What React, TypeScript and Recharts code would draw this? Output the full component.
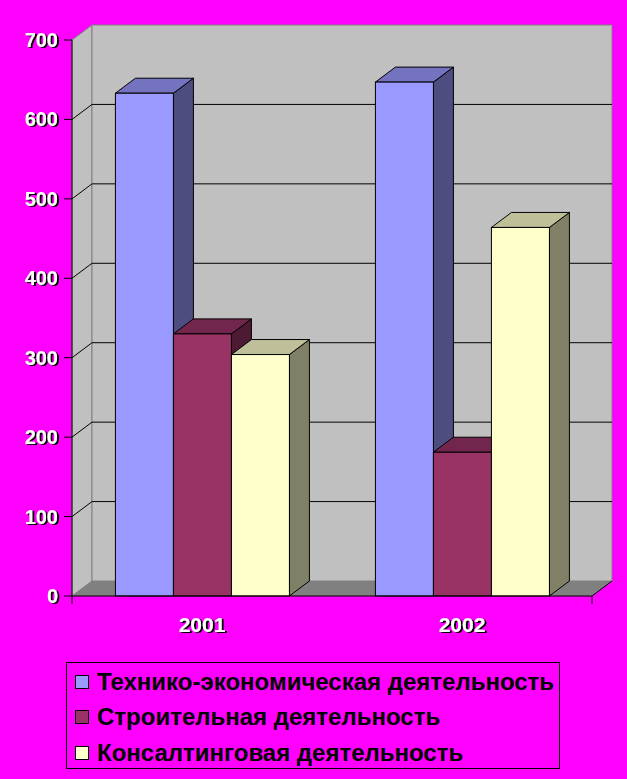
import { BarChart, Bar, XAxis, YAxis, ReferenceArea, ReferenceLine, Legend } from 'recharts';

const years = ['2001', '2002'];
const techEcon = [633, 647];
const construction = [330, 181];
const consulting = [304, 464];
const yTicks = [0, 100, 200, 300, 400, 500, 600, 700];
const gridValues = [100, 200, 300, 400, 500, 600];
const seriesNames = [
  'Технико-экономическая деятельность',
  'Строительная деятельность',
  'Консалтинговая деятельность',
];

const data = years.map((year, i) => ({
  year,
  tech: techEcon[i],
  build: construction[i],
  consult: consulting[i],
}));

// depth of the fake 3d
const DX = 20;
const DY = 15;
const FONT = '"Liberation Sans", Arial, sans-serif';

function makeBox(top: string, side: string) {
  return (props: any) => {
    const { x, y, width, height, fill } = props;
    if (!height || height <= 0) return <g />;
    const r = x + width;
    const b = y + height;
    return (
      <g>
        <polygon
          points={`${r},${y} ${r + DX},${y - DY} ${r + DX},${b - DY} ${r},${b}`}
          fill={side}
          stroke="#000"
          strokeWidth={1}
        />
        <polygon
          points={`${x},${y} ${x + DX},${y - DY} ${r + DX},${y - DY} ${r},${y}`}
          fill={top}
          stroke="#000"
          strokeWidth={1}
        />
        <rect x={x} y={y} width={width} height={height} fill={fill} stroke="#000" strokeWidth={1} />
      </g>
    );
  };
}

function Walls(props: any) {
  const { x, y, width, height } = props;
  const b = y + height;
  const r = x + width;
  return (
    <g>
      <defs>
        <filter id="txtShadow" x="-20%" y="-20%" width="140%" height="140%">
          <feDropShadow dx={2} dy={1} stdDeviation={0} floodColor="#000" floodOpacity={1} />
        </filter>
      </defs>
      <polygon
        points={`${x},${y} ${x + DX},${y - DY} ${x + DX},${b - DY} ${x},${b}`}
        fill="#C0C0C0"
        stroke="#808080"
      />
      <rect x={x + DX} y={y - DY} width={width} height={height} fill="#C0C0C0" stroke="#808080" />
      <polygon
        points={`${x},${b} ${x + DX},${b - DY} ${r + DX},${b - DY} ${r},${b}`}
        fill="#808080"
      />
      <line x1={r} y1={b} x2={r + DX} y2={b - DY} stroke="#000" />
    </g>
  );
}

function GridLine(props: any) {
  const { x1, y1, x2, y2 } = props;
  return (
    <g>
      <line x1={x1} y1={y1} x2={x1 + DX} y2={y1 - DY} stroke="#000" strokeWidth={1} />
      <line x1={x1 + DX} y1={y1 - DY} x2={x2 + DX} y2={y2 - DY} stroke="#000" strokeWidth={1} />
    </g>
  );
}

function ShadowTick(props: any) {
  const { x, y, payload, textAnchor, dy, size } = props;
  return (
    <text
      x={x}
      y={y}
      dy={dy}
      textAnchor={textAnchor}
      fill="#fff"
      fontFamily={FONT}
      fontWeight={700}
      fontSize={size}
      filter="url(#txtShadow)"
    >
      {payload.value}
    </text>
  );
}

// short downward mark at each category boundary
function EdgeTick(props: any) {
  const { x, y } = props;
  return <line x1={x} y1={y} x2={x} y2={y + 8} stroke="#000" strokeWidth={1} />;
}

function LegendBox(props: any) {
  const items = [...(props.payload || [])].sort(
    (a: any, b: any) => seriesNames.indexOf(a.value) - seriesNames.indexOf(b.value),
  );
  return (
    <div
      style={{
        border: '1px solid #000',
        width: 494,
        height: 107,
        boxSizing: 'border-box',
        paddingTop: 1,
      }}
    >
      {items.map((item: any) => (
        <div
          key={item.value}
          style={{ display: 'flex', alignItems: 'center', height: 35.5, paddingLeft: 8 }}
        >
          <span
            style={{
              width: 14,
              height: 14,
              border: '1px solid #000',
              background: item.color,
              boxSizing: 'border-box',
              marginRight: 8,
              flex: 'none',
            }}
          />
          <span
            style={{
              fontFamily: FONT,
              fontWeight: 700,
              fontSize: 24,
              color: '#000',
              whiteSpace: 'nowrap',
            }}
          >
            {item.value}
          </span>
        </div>
      ))}
    </div>
  );
}

export default function App() {
  const edgeTicks = years.map((_, i) => i).concat(years.length);
  return (
    <div style={{ width: 627, height: 779, background: '#FF00FF' }}>
      <style>{'body{margin:0;background:#FF00FF}'}</style>
      <BarChart
        width={627}
        height={779}
        data={data}
        margin={{ top: 40, right: 35, left: 12, bottom: 143 }}
        barCategoryGap="16.7%"
        barGap={0}
      >
        {/* category boundary ticks + the front floor edge */}
        <XAxis
          xAxisId={0}
          type="number"
          domain={[0, years.length]}
          ticks={edgeTicks}
          interval={0}
          allowDataOverflow
          height={1}
          axisLine={{ stroke: '#000' }}
          tickLine={false}
          tickSize={0}
          tickMargin={0}
          tick={<EdgeTick />}
        />
        <XAxis
          xAxisId="cat"
          dataKey="year"
          height={39}
          axisLine={false}
          tickLine={false}
          tickSize={0}
          tickMargin={20}
          tick={<ShadowTick dy="0.71em" size={21} />}
        />
        <YAxis
          width={60}
          domain={[0, 700]}
          ticks={yTicks}
          interval={0}
          axisLine={{ stroke: '#000' }}
          tickLine={{ stroke: '#000' }}
          tickSize={8}
          tickMargin={6}
          tick={<ShadowTick dy="0.35em" size={20} />}
        />
        <ReferenceArea xAxisId="cat" y1={0} y2={700} shape={<Walls />} zIndex={-200} />
        {gridValues.map((v) => (
          <ReferenceLine xAxisId="cat" key={v} y={v} shape={<GridLine />} zIndex={-150} />
        ))}
        <Legend
          layout="horizontal"
          verticalAlign="middle"
          align="center"
          wrapperStyle={{ left: 66, top: 662, width: 494, height: 107 }}
          content={<LegendBox />}
        />
        <Bar
          xAxisId="cat"
          dataKey="tech"
          name={seriesNames[0]}
          fill="#9999FF"
          shape={makeBox('#7373BF', '#4D4D80')}
          isAnimationActive={false}
        />
        <Bar
          xAxisId="cat"
          dataKey="build"
          name={seriesNames[1]}
          fill="#993366"
          shape={makeBox('#73264D', '#4D1A33')}
          isAnimationActive={false}
        />
        <Bar
          xAxisId="cat"
          dataKey="consult"
          name={seriesNames[2]}
          fill="#FFFFCC"
          shape={makeBox('#BFBF99', '#808066')}
          isAnimationActive={false}
        />
      </BarChart>
    </div>
  );
}
